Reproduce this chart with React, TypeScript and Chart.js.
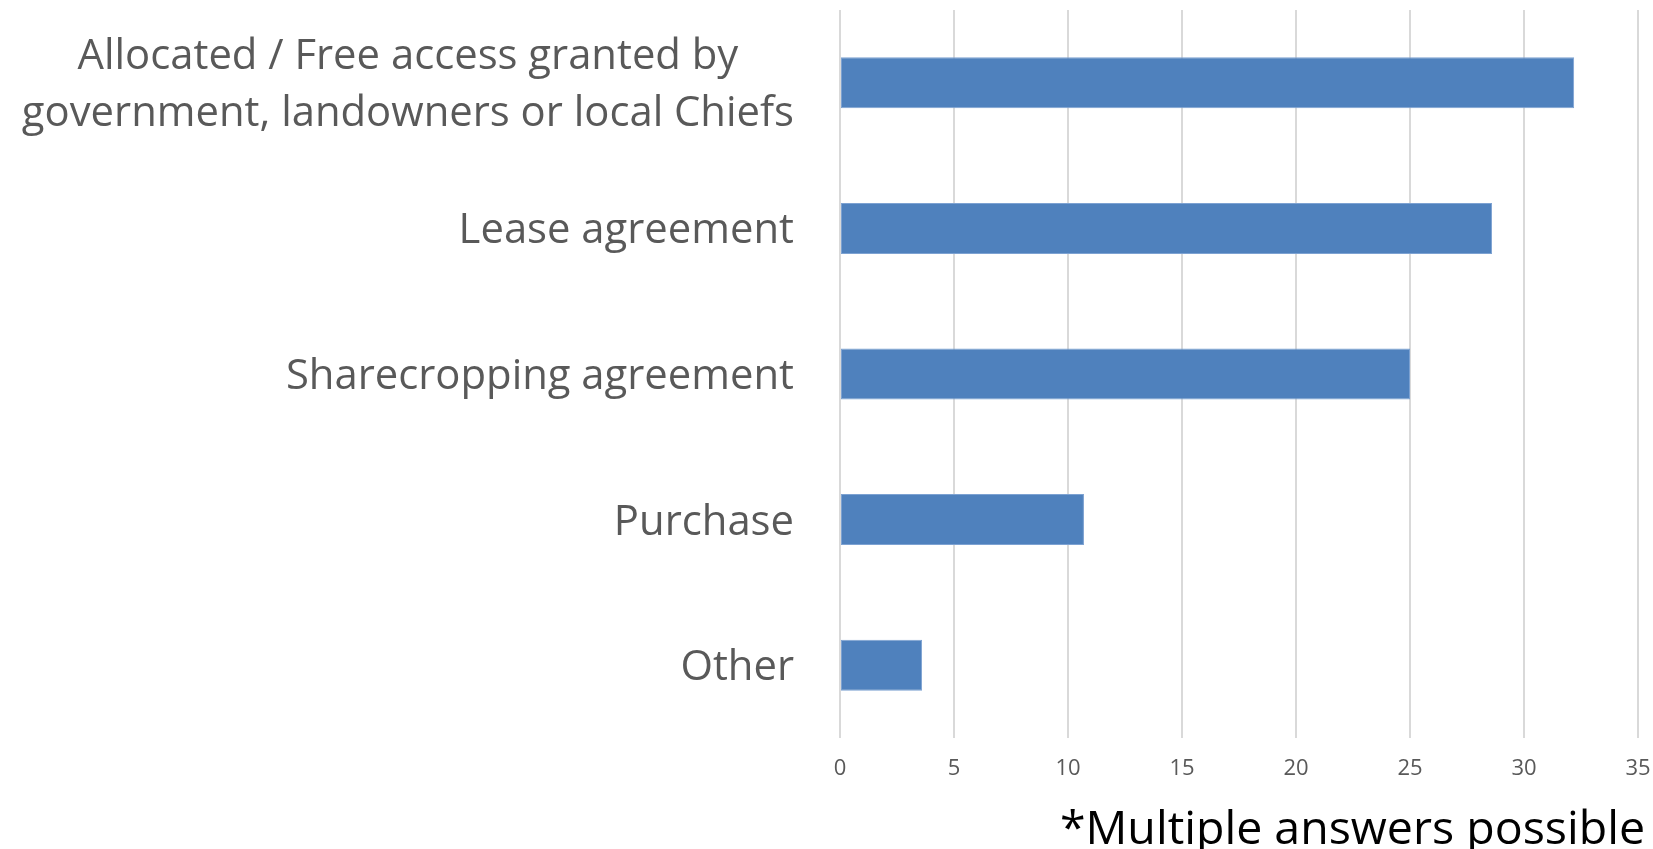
import React, { useEffect, useRef } from "react";
import { Chart, registerables } from "chart.js";

Chart.register(...registerables);

const categories: (string | string[])[] = [
  ["Allocated / Free access granted by", "government, landowners or local Chiefs"],
  "Lease agreement",
  "Sharecropping agreement",
  "Purchase",
  "Other",
];
const values: number[] = [32.2, 28.6, 25.0, 10.7, 3.6];
const xTickMin = 0;
const xTickMax = 35;
const xTickStep = 5;
const footnote = "*Multiple answers possible";

const W = 1653;
const H = 849;

const LABEL_FONT = '41.8px "Open Sans"';
const LABEL_LINE = 57;
const LABEL_GAP = 46;
const LABEL_SHIFT = 3;

export default function App() {
  const ref = useRef<HTMLCanvasElement | null>(null);

  useEffect(() => {
    if (!ref.current) return;
    const labelPlugin = {
      id: "catLabels",
      afterDraw(chart: any) {
        const ctx = chart.ctx;
        const yScale = chart.scales.y;
        const right = chart.chartArea.left - LABEL_GAP;
        ctx.save();
        ctx.font = LABEL_FONT;
        ctx.fillStyle = "#595959";
        ctx.textBaseline = "middle";
        ctx.textAlign = "center";
        categories.forEach((lab, i) => {
          const lines = Array.isArray(lab) ? lab : [lab];
          const widths = lines.map((l) => ctx.measureText(l).width);
          const blockW = Math.max(...widths);
          const cx = right - blockW / 2;
          const cy = yScale.getPixelForValue(i) + LABEL_SHIFT;
          const n = lines.length;
          lines.forEach((l, j) => {
            const y = cy + (j - (n - 1) / 2) * LABEL_LINE;
            ctx.fillText(l, cx, y);
          });
        });
        ctx.restore();
      },
    };
    const footnotePlugin = {
      id: "footnote",
      afterDraw(chart: any) {
        const ctx = chart.ctx;
        ctx.save();
        ctx.font = '46.5px "Open Sans"';
        ctx.fillStyle = "#000000";
        ctx.textAlign = "right";
        ctx.textBaseline = "alphabetic";
        ctx.fillText(footnote, chart.width - 8, chart.height - 5);
        ctx.restore();
      },
    };
    const chart = new Chart(ref.current, {
      type: "bar",
      data: {
        labels: categories,
        datasets: [
          {
            data: values,
            backgroundColor: "#4f81bd",
            borderColor: "#7da2d2",
            borderWidth: 1,
            borderSkipped: false,
            barPercentage: 0.35,
            categoryPercentage: 1.0,
          },
        ],
      },
      options: {
        indexAxis: "y",
        animation: false,
        responsive: false,
        maintainAspectRatio: false,
        layout: { padding: { top: 10, right: 15, left: 0, bottom: 0 } },
        plugins: {
          legend: { display: false },
          tooltip: { enabled: false },
          title: { display: false },
        },
        scales: {
          x: {
            type: "linear",
            min: xTickMin,
            max: xTickMax,
            ticks: {
              stepSize: xTickStep,
              color: "#595959",
              padding: 18,
              font: { family: '"Open Sans"', size: 22 },
            },
            grid: {
              color: "#d9d9d9",
              lineWidth: 2,
              drawTicks: false,
            },
            border: { display: false },
            afterFit(scale: any) {
              scale.height = 111;
              scale.paddingLeft = 0;
              scale.paddingRight = 0;
            },
          },
          y: {
            type: "category",
            ticks: { display: false },
            grid: { display: false, drawTicks: false },
            border: { display: false },
            afterFit(scale: any) {
              scale.width = 840;
              scale.paddingTop = 0;
              scale.paddingBottom = 0;
            },
          },
        },
      },
      plugins: [labelPlugin, footnotePlugin],
    });
    return () => chart.destroy();
  }, []);

  return (
    <div style={{ position: "fixed", left: 0, top: 0, width: W, height: H, background: "#ffffff" }}>
      <canvas ref={ref} width={W} height={H} style={{ width: W, height: H, display: "block" }} />
    </div>
  );
}
